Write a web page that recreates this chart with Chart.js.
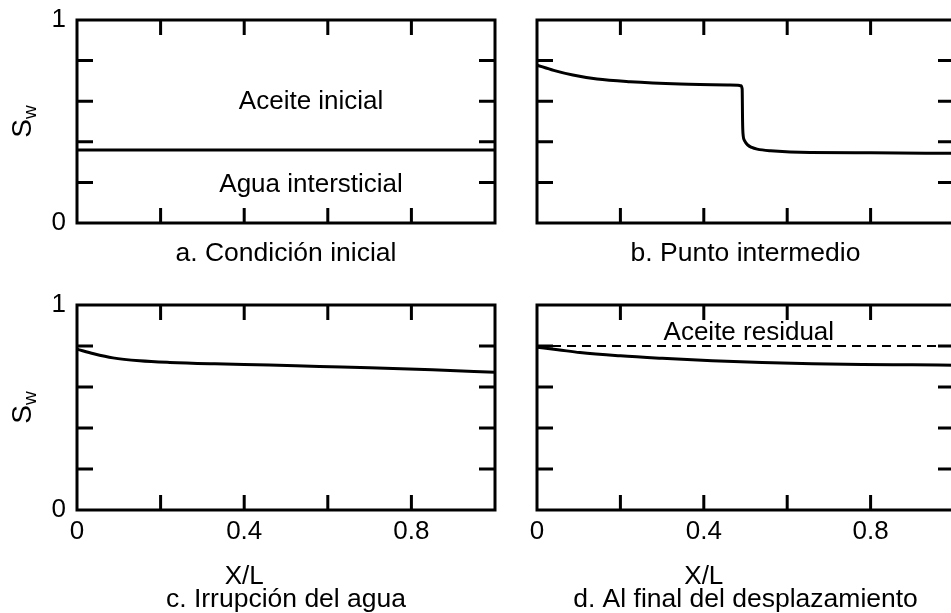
<!DOCTYPE html>
<html>
<head>
<meta charset="utf-8">
<script src="https://cdn.jsdelivr.net/npm/chart.js@4.4.0/dist/chart.umd.min.js"></script>
<style>
  body { margin: 0; width: 951px; height: 613px; overflow: hidden; background: #fff; position: relative; }
  canvas { position: absolute; }
</style>
</head>
<body>
<canvas id="panelA" width="520" height="290" style="left:0;top:0"></canvas>
<canvas id="panelB" width="460" height="290" style="left:520px;top:0"></canvas>
<canvas id="panelC" width="520" height="323" style="left:0;top:290px"></canvas>
<canvas id="panelD" width="460" height="323" style="left:520px;top:290px"></canvas>
<script>
// ticks
const xTicks = [0, 0.2, 0.4, 0.6, 0.8, 1];
const xTickLabels = ['0', '', '0.4', '', '0.8', ''];
const yTicks = [0, 0.2, 0.4, 0.6, 0.8, 1];
const yTickLabels = ['0', '', '', '', '', '1'];

// a. condicion inicial
const initX = [0, 1];
const initSw = [0.36, 0.36];

// b. punto intermedio
const midX = [0, 0.04, 0.086, 0.144, 0.223, 0.343, 0.463, 0.482, 0.489, 0.492, 0.493, 0.494, 0.498, 0.505, 0.515, 0.528, 0.56, 0.655, 0.8, 1.0];
const midSw = [0.778, 0.752, 0.729, 0.709, 0.696, 0.685, 0.680, 0.679, 0.676, 0.66, 0.50, 0.44, 0.405, 0.385, 0.372, 0.364, 0.356, 0.347, 0.346, 0.343];

// c. irrupcion del agua
const btX = [0, 0.04, 0.086, 0.15, 0.222, 0.33, 0.46, 0.58, 0.70, 0.85, 1.0];
const btSw = [0.784, 0.762, 0.742, 0.728, 0.720, 0.713, 0.707, 0.700, 0.694, 0.684, 0.672];

// d. al final del desplazamiento
const endX = [0, 0.05, 0.103, 0.2, 0.30, 0.42, 0.54, 0.66, 0.78, 0.9, 1.0];
const endSw = [0.794, 0.782, 0.768, 0.752, 0.740, 0.728, 0.720, 0.714, 0.710, 0.708, 0.706];
const residX = [0, 1];
const residSw = [0.80, 0.80];

const FONT = '"Liberation Sans", Arial, sans-serif';

function pts(xs, ys) {
  return xs.map((x, i) => ({ x: x, y: ys[i] }));
}

const panelPlugin = {
  id: 'panel',
  afterDraw(chart, args, opts) {
    const ctx = chart.ctx;
    const a = chart.chartArea;
    const xs = chart.scales.x, ys = chart.scales.y;
    ctx.save();
    ctx.strokeStyle = '#000';
    ctx.lineWidth = 3;
    ctx.strokeRect(a.left, a.top, a.right - a.left, a.bottom - a.top);
    ctx.beginPath();
    xTicks.slice(1, -1).forEach(v => {
      const px = xs.getPixelForValue(v);
      ctx.moveTo(px, a.top); ctx.lineTo(px, a.top + 15);
      ctx.moveTo(px, a.bottom); ctx.lineTo(px, a.bottom - 15);
    });
    yTicks.slice(1, -1).forEach(v => {
      const py = ys.getPixelForValue(v);
      ctx.moveTo(a.left, py); ctx.lineTo(a.left + 16, py);
      ctx.moveTo(a.right, py); ctx.lineTo(a.right - 16, py);
    });
    ctx.stroke();

    ctx.fillStyle = '#000';
    ctx.font = '26px ' + FONT;
    ctx.textAlign = 'center';
    ctx.textBaseline = 'middle';
    (opts.notes || []).forEach(n => {
      ctx.fillText(n.text, xs.getPixelForValue(n.x), ys.getPixelForValue(n.y));
    });
    const cx = (a.left + a.right) / 2;
    ctx.font = '26.5px ' + FONT;
    ctx.fillText(opts.caption, cx, a.bottom + opts.captionGap);
    ctx.font = '26px ' + FONT;
    if (opts.xTitle) ctx.fillText('X/L', xs.getPixelForValue(0.4), a.bottom + 67);
    if (opts.yTitle) {
      ctx.translate(a.left - 54, (a.top + a.bottom) / 2);
      ctx.rotate(-Math.PI / 2);
      ctx.textAlign = 'left';
      ctx.font = '28px ' + FONT;
      const wS = ctx.measureText('S').width;
      ctx.font = '19px ' + FONT;
      const ww = ctx.measureText('w').width;
      const start = -(wS + ww) / 2;
      ctx.font = '28px ' + FONT;
      ctx.fillText('S', start, 0);
      ctx.font = '19px ' + FONT;
      ctx.fillText('w', start + wS, 8);
    }
    ctx.restore();
  }
};

function makePanel(id, datasets, cfg) {
  const canvas = document.getElementById(id);
  new Chart(canvas.getContext('2d'), {
    type: 'line',
    data: { datasets: datasets },
    plugins: [panelPlugin],
    options: {
      responsive: false,
      animation: false,
      layout: { padding: { left: 0, top: cfg.top, right: cfg.right, bottom: 0 } },
      plugins: {
        legend: { display: false },
        tooltip: { enabled: false },
        panel: { caption: cfg.caption, captionGap: cfg.captionGap, xTitle: cfg.xLabels, yTitle: cfg.yLabels, notes: cfg.notes }
      },
      scales: {
        x: {
          type: 'linear', min: 0, max: 1,
          afterBuildTicks: s => { s.ticks = xTicks.map(v => ({ value: v })); },
          afterFit: s => { s.height = cfg.xHeight; s.paddingLeft = 0; s.paddingRight = 0; },
          grid: { display: false, drawTicks: false },
          border: { display: false },
          ticks: {
            display: cfg.xLabels, autoSkip: false, maxRotation: 0, padding: 6,
            color: '#000', font: { family: FONT, size: 26 },
            callback: (v, i) => xTickLabels[i]
          }
        },
        y: {
          type: 'linear', min: 0, max: 1,
          afterBuildTicks: s => { s.ticks = yTicks.map(v => ({ value: v })); },
          afterFit: s => { s.width = cfg.yWidth; s.paddingTop = 0; s.paddingBottom = 0; },
          grid: { display: false, drawTicks: false },
          border: { display: false },
          ticks: {
            display: cfg.yLabels, padding: 11,
            color: '#000', font: { family: FONT, size: 26 },
            callback: (v, i) => yTickLabels[i]
          }
        }
      }
    }
  });
}

function line(xs, ys, dash) {
  return {
    data: pts(xs, ys),
    borderColor: '#000',
    borderWidth: dash ? 2 : 3,
    borderDash: dash ? [9, 6] : [],
    pointRadius: 0,
    fill: false,
    cubicInterpolationMode: 'monotone'
  };
}

makePanel('panelA', [line(initX, initSw)], {
  top: 20, right: 25, xHeight: 67, yWidth: 77, xLabels: false, yLabels: true,
  caption: 'a. Condición inicial', captionGap: 31,
  notes: [{ text: 'Aceite inicial', x: 0.56, y: 0.596 }, { text: 'Agua intersticial', x: 0.56, y: 0.187 }]
});
makePanel('panelB', [line(midX, midSw)], {
  top: 20, right: 26, xHeight: 67, yWidth: 17, xLabels: false, yLabels: false,
  caption: 'b. Punto intermedio', captionGap: 31, notes: []
});
makePanel('panelC', [line(btX, btSw)], {
  top: 15, right: 25, xHeight: 103, yWidth: 77, xLabels: true, yLabels: true,
  caption: 'c. Irrupción del agua', captionGap: 90, notes: []
});
makePanel('panelD', [line(residX, residSw, true), line(endX, endSw)], {
  top: 15, right: 26, xHeight: 103, yWidth: 17, xLabels: true, yLabels: false,
  caption: 'd. Al final del desplazamiento', captionGap: 90,
  notes: [{ text: 'Aceite residual', x: 0.508, y: 0.863 }]
});
</script>
</body>
</html>
